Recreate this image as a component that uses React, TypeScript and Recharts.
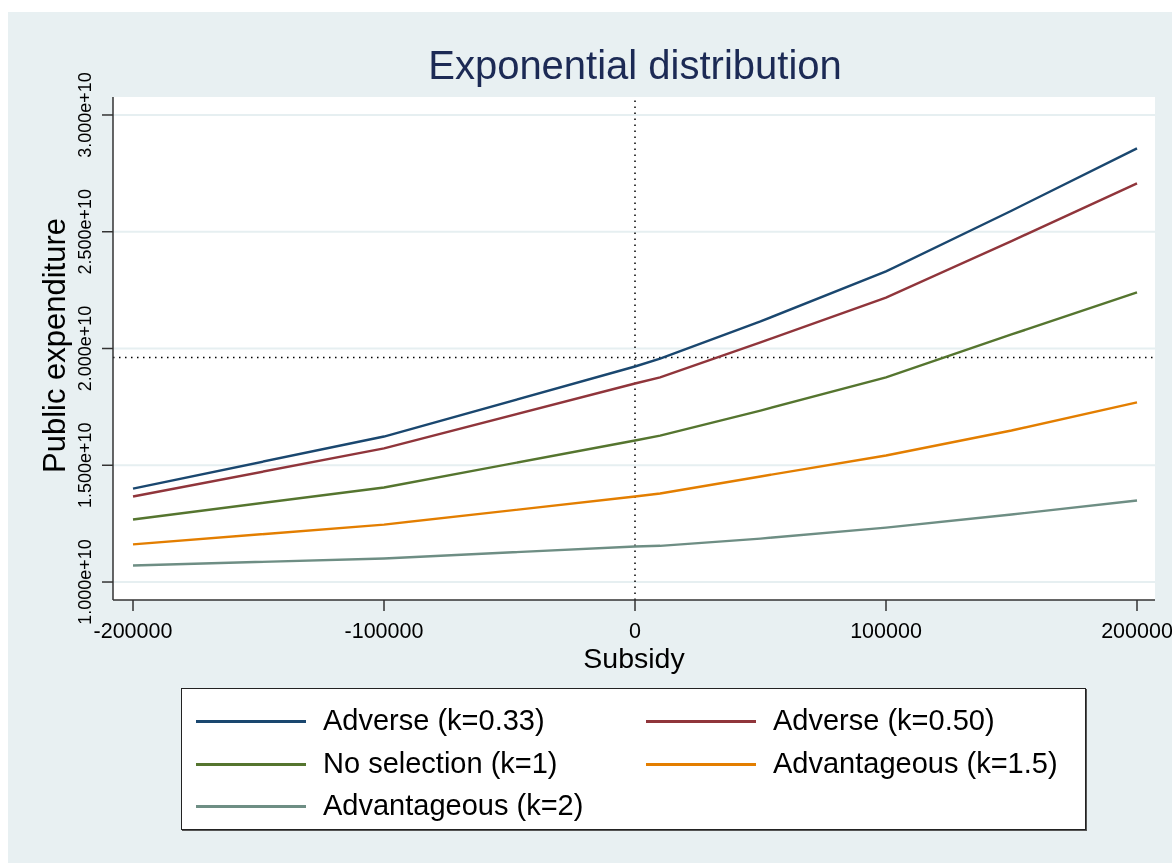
import React from "react";
import {
  LineChart,
  Line,
  XAxis,
  YAxis,
  CartesianGrid,
  ReferenceLine,
  Legend,
} from "recharts";

// Subsidy values (x axis)
const subsidy = [-200000, -100000, 0, 10000, 50000, 100000, 150000, 200000];

// Public expenditure for each selection scenario
const adverse033 = [1.4e10, 1.623e10, 1.923e10, 1.957e10, 2.116e10, 2.33e10, 2.59e10, 2.857e10];
const adverse050 = [1.366e10, 1.572e10, 1.85e10, 1.876e10, 2.026e10, 2.218e10, 2.46e10, 2.707e10];
const noSelection = [1.268e10, 1.405e10, 1.606e10, 1.627e10, 1.734e10, 1.876e10, 2.06e10, 2.24e10];
const advantageous15 = [1.161e10, 1.246e10, 1.366e10, 1.379e10, 1.452e10, 1.542e10, 1.649e10, 1.769e10];
const advantageous2 = [1.071e10, 1.101e10, 1.152e10, 1.155e10, 1.186e10, 1.233e10, 1.289e10, 1.349e10];

const xTicks = [-200000, -100000, 0, 100000, 200000];
const yTicks = [1.0e10, 1.5e10, 2.0e10, 2.5e10, 3.0e10];
const baselineExpenditure = 1.961e10;

const seriesNames = [
  "Adverse (k=0.33)",
  "Adverse (k=0.50)",
  "No selection (k=1)",
  "Advantageous (k=1.5)",
  "Advantageous (k=2)",
];
const seriesKeys = ["a033", "a050", "ns", "adv15", "adv2"];
const seriesValues = [adverse033, adverse050, noSelection, advantageous15, advantageous2];
const seriesColors = ["#1a476f", "#90353b", "#55752f", "#e37e00", "#6e8e84"];

const data = subsidy.map((s, i) => {
  const row: Record<string, number> = { subsidy: s };
  seriesKeys.forEach((k, j) => {
    row[k] = seriesValues[j][i];
  });
  return row;
});

const FONT = "'Liberation Sans', Arial, Helvetica, sans-serif";

const fmtY = (v: number) => (v / 1e10).toFixed(3) + "e+10";

const YTick = (props: any) => {
  const { x, y, payload } = props;
  const bx = x - 9;
  return (
    <text
      x={bx}
      y={y}
      transform={`rotate(-90 ${bx} ${y})`}
      textAnchor="middle"
      fontSize={18}
      fontFamily={FONT}
      fill="#000"
    >
      {fmtY(payload.value)}
    </text>
  );
};

const XTick = (props: any) => {
  const { x, y, payload } = props;
  return (
    <text x={x} y={y + 25} textAnchor="middle" fontSize={21.5} fontFamily={FONT} fill="#000">
      {payload.value}
    </text>
  );
};

const XLabel = (props: any) => {
  const vb = props.viewBox || {};
  return (
    <text
      x={vb.x + vb.width / 2}
      y={vb.y + 68}
      textAnchor="middle"
      fontSize={28.5}
      fontFamily={FONT}
      fill="#000"
    >
      Subsidy
    </text>
  );
};

const YLabel = (props: any) => {
  const vb = props.viewBox || {};
  const cx = 57;
  const cy = vb.y + vb.height / 2 - 3;
  return (
    <text
      x={cx}
      y={cy}
      transform={`rotate(-90 ${cx} ${cy})`}
      textAnchor="middle"
      fontSize={31}
      fontFamily={FONT}
      fill="#000"
    >
      Public expenditure
    </text>
  );
};

const LegendContent = (props: any) => {
  const payload = [...(props.payload || [])].sort(
    (a: any, b: any) => seriesNames.indexOf(a.value) - seriesNames.indexOf(b.value)
  );
  const rowY = [32, 75, 117];
  return (
    <div
      style={{
        position: "absolute",
        left: 173,
        top: 676,
        width: 905,
        height: 142,
        background: "#fff",
        border: "1px solid #222",
        boxShadow: "1px 1px 0 #555",
        boxSizing: "border-box",
        fontFamily: FONT,
      }}
    >
      {payload.map((p: any, i: number) => {
        const col = i % 2;
        const row = Math.floor(i / 2);
        const lx = col === 0 ? 14 : 464;
        const tx = col === 0 ? 141 : 591;
        return (
          <React.Fragment key={i}>
            <div
              style={{
                position: "absolute",
                left: lx,
                top: rowY[row] - 1,
                width: 110,
                height: 3,
                background: p.color,
              }}
            />
            <div
              style={{
                position: "absolute",
                left: tx,
                top: rowY[row] - 17,
                fontSize: 29,
                lineHeight: "32px",
                color: "#000",
                whiteSpace: "nowrap",
              }}
            >
              {p.value}
            </div>
          </React.Fragment>
        );
      })}
    </div>
  );
};

export default function App() {
  return (
    <div
      style={{
        position: "fixed",
        left: 8,
        top: 12,
        width: 1164,
        height: 851,
        background: "#e8f0f2",
        fontFamily: FONT,
      }}
    >
      <div
        style={{
          position: "absolute",
          left: 0,
          width: 1254,
          top: 33,
          textAlign: "center",
          fontSize: 40,
          lineHeight: "40px",
          color: "#1c2a55",
          whiteSpace: "nowrap",
        }}
      >
        Exponential distribution
      </div>
      <LineChart
        width={1164}
        height={851}
        data={data}
        margin={{ top: 85, right: 17, left: 0, bottom: 193 }}
      >
        <CartesianGrid
          vertical={false}
          horizontal={true}
          stroke="#e6eff1"
          strokeWidth={2}
          fill="#ffffff"
          horizontalValues={yTicks}
        />
        <XAxis
          dataKey="subsidy"
          type="number"
          domain={[-207970, 207170]}
          allowDataOverflow
          ticks={xTicks}
          tick={<XTick />}
          tickSize={11}
          height={70}
          stroke="#333"
          axisLine={{ stroke: "#333", strokeWidth: 1.5 }}
          tickLine={{ stroke: "#333", strokeWidth: 1.5 }}
          label={<XLabel />}
        />
        <YAxis
          type="number"
          domain={[0.923e10, 3.077e10]}
          allowDataOverflow
          ticks={yTicks}
          tick={<YTick />}
          tickSize={11}
          width={105}
          stroke="#333"
          axisLine={{ stroke: "#333", strokeWidth: 1.5 }}
          tickLine={{ stroke: "#333", strokeWidth: 1.5 }}
          label={<YLabel />}
        />
        <ReferenceLine x={0} stroke="#000" strokeWidth={1.5} strokeDasharray="1.5 4.5" />
        <ReferenceLine
          y={baselineExpenditure}
          stroke="#000"
          strokeWidth={1.5}
          strokeDasharray="1.5 4.5"
        />
        {seriesKeys.map((k, j) => (
          <Line
            key={k}
            type="linear"
            dataKey={k}
            name={seriesNames[j]}
            stroke={seriesColors[j]}
            strokeWidth={2.4}
            dot={false}
            activeDot={false}
            isAnimationActive={false}
          />
        ))}
        <Legend
          content={<LegendContent />}
          itemSorter={null as any}
          wrapperStyle={{ position: "absolute", left: 0, top: 0, width: 0, height: 0, overflow: "visible" }}
        />
      </LineChart>
    </div>
  );
}
